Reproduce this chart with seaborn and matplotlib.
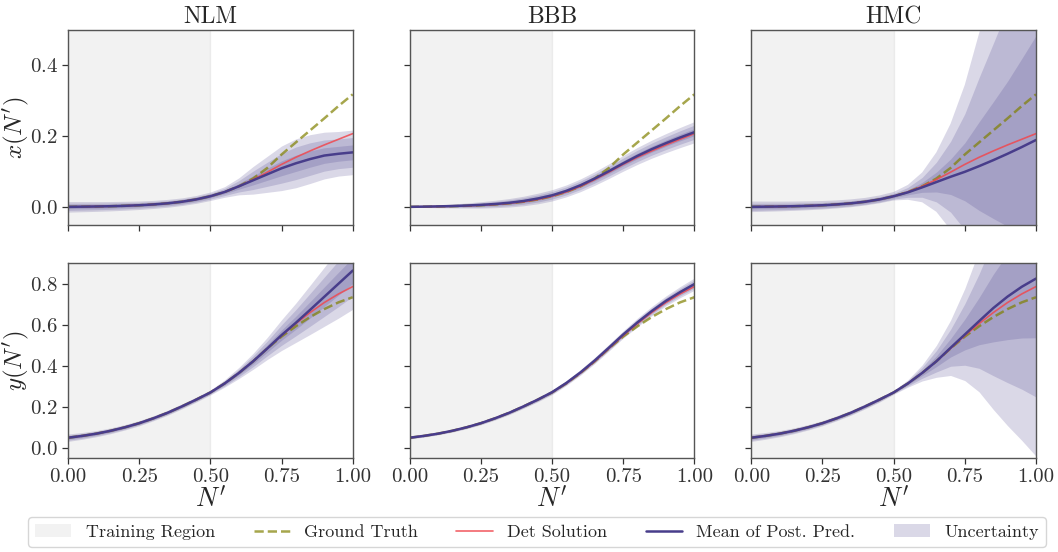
import numpy as np
import seaborn as sns
import matplotlib.pyplot as plt
from matplotlib.patches import Patch
from matplotlib.lines import Line2D

# grid of N' values the curves were read at
n_prime = [0.00, 0.05, 0.10, 0.15, 0.20, 0.25, 0.30, 0.35, 0.40, 0.45, 0.50,
           0.55, 0.60, 0.65, 0.70, 0.75, 0.80, 0.85, 0.90, 0.95, 1.00]

methods = ['NLM', 'BBB', 'HMC']

# ground truth and deterministic solution
gt_x = [0.000, 0.0005, 0.001, 0.0018, 0.003, 0.0045, 0.0068, 0.010, 0.0145, 0.021, 0.030,
        0.042, 0.058, 0.080, 0.110, 0.148, 0.182, 0.216, 0.250, 0.285, 0.318]
det_x = [0.000, 0.0005, 0.001, 0.0018, 0.003, 0.0045, 0.0068, 0.010, 0.0145, 0.021, 0.030,
         0.042, 0.058, 0.077, 0.098, 0.120, 0.140, 0.158, 0.175, 0.191, 0.207]
gt_y = [0.049, 0.058, 0.069, 0.083, 0.100, 0.120, 0.144, 0.171, 0.202, 0.235, 0.270,
        0.314, 0.365, 0.422, 0.485, 0.543, 0.593, 0.638, 0.677, 0.710, 0.735]
det_y = [0.049, 0.058, 0.069, 0.083, 0.100, 0.120, 0.144, 0.171, 0.202, 0.235, 0.270,
         0.314, 0.365, 0.422, 0.485, 0.548, 0.606, 0.660, 0.709, 0.751, 0.787]

# posterior predictive means and std devs
nlm_mean_x = [0.000, 0.0005, 0.001, 0.0018, 0.003, 0.0045, 0.0068, 0.010, 0.0145, 0.021, 0.030,
              0.042, 0.058, 0.075, 0.092, 0.109, 0.123, 0.135, 0.145, 0.150, 0.154]
nlm_sd_x = [0.005, 0.0048, 0.0046, 0.0044, 0.0042, 0.004, 0.0038, 0.0037, 0.0036, 0.0037, 0.004,
            0.005, 0.008, 0.013, 0.017, 0.021, 0.023, 0.023, 0.022, 0.021, 0.021]
bbb_mean_x = [0.000, 0.0006, 0.0013, 0.0023, 0.0037, 0.0055, 0.008, 0.0115, 0.0165, 0.0235, 0.0325,
              0.045, 0.061, 0.080, 0.101, 0.123, 0.144, 0.163, 0.180, 0.196, 0.211]
bbb_sd_x = [0.0003, 0.0008, 0.0013, 0.0018, 0.0024, 0.003, 0.0035, 0.004, 0.0045, 0.005, 0.0053,
            0.0056, 0.006, 0.0064, 0.0069, 0.0074, 0.008, 0.0085, 0.009, 0.0095, 0.010]
hmc_mean_x = [0.000, 0.0005, 0.001, 0.0018, 0.003, 0.0045, 0.0068, 0.010, 0.0145, 0.021, 0.030,
              0.041, 0.055, 0.070, 0.085, 0.099, 0.115, 0.132, 0.150, 0.169, 0.189]
hmc_sd_x = [0.005, 0.0048, 0.0046, 0.0044, 0.0042, 0.004, 0.0038, 0.0037, 0.0036, 0.0037, 0.004,
            0.007, 0.014, 0.028, 0.050, 0.082, 0.125, 0.165, 0.205, 0.250, 0.295]

nlm_mean_y = [0.049, 0.058, 0.069, 0.083, 0.100, 0.120, 0.144, 0.171, 0.202, 0.235, 0.270,
              0.314, 0.365, 0.422, 0.485, 0.550, 0.610, 0.673, 0.737, 0.801, 0.865]
nlm_sd_y = [0.006, 0.0055, 0.005, 0.0047, 0.0044, 0.0042, 0.004, 0.004, 0.004, 0.004, 0.004,
            0.006, 0.009, 0.013, 0.018, 0.025, 0.032, 0.040, 0.048, 0.056, 0.063]
bbb_mean_y = [0.049, 0.058, 0.069, 0.083, 0.100, 0.120, 0.144, 0.171, 0.202, 0.235, 0.271,
              0.316, 0.368, 0.426, 0.489, 0.553, 0.612, 0.667, 0.717, 0.760, 0.799]
bbb_sd_y = [0.002, 0.002, 0.002, 0.0022, 0.0024, 0.0026, 0.0028, 0.003, 0.0032, 0.0035, 0.0038,
            0.004, 0.0045, 0.005, 0.0055, 0.006, 0.007, 0.0075, 0.008, 0.009, 0.010]
hmc_mean_y = [0.049, 0.058, 0.069, 0.083, 0.100, 0.120, 0.144, 0.171, 0.202, 0.235, 0.270,
              0.314, 0.365, 0.422, 0.488, 0.553, 0.618, 0.682, 0.738, 0.786, 0.826]
hmc_sd_y = [0.006, 0.0055, 0.005, 0.0047, 0.0044, 0.0042, 0.004, 0.004, 0.004, 0.004, 0.003,
            0.006, 0.013, 0.026, 0.045, 0.075, 0.115, 0.165, 0.210, 0.250, 0.289]

truth = {'x': (gt_x, det_x), 'y': (gt_y, det_y)}
post = {
    'x': {'NLM': (nlm_mean_x, nlm_sd_x), 'BBB': (bbb_mean_x, bbb_sd_x), 'HMC': (hmc_mean_x, hmc_sd_x)},
    'y': {'NLM': (nlm_mean_y, nlm_sd_y), 'BBB': (bbb_mean_y, bbb_sd_y), 'HMC': (hmc_mean_y, hmc_sd_y)},
}

gt_color = 'olive'
det_color = '#f0484f'
mean_color = 'darkslateblue'

sns.set_theme(style="ticks")
plt.rcParams.update({
    'font.family': 'serif',
    'font.serif': ['cmr10'],
    'mathtext.fontset': 'cm',
    'axes.formatter.use_mathtext': True,
    'axes.unicode_minus': False,
    'axes.edgecolor': '#555555',
    'xtick.color': '#333333',
    'ytick.color': '#333333',
})

fig, axes = plt.subplots(2, 3, figsize=(10.58, 5.52), dpi=100, sharex=True, sharey='row')
fig.subplots_adjust(left=0.0643, right=0.9792, top=0.9457, bottom=0.1703, wspace=0.2, hspace=0.2)

x = np.array(n_prime)
for row, var in enumerate(['x', 'y']):
    gt, det = truth[var]
    for col, m in enumerate(methods):
        ax = axes[row, col]
        ax.axvspan(0, 0.5, color='gray', alpha=0.1)
        mu = np.array(post[var][m][0])
        sd = np.array(post[var][m][1])
        for k in (3, 2, 1):
            ax.fill_between(x, mu - k * sd, mu + k * sd, color=mean_color, alpha=0.2, lw=0)
        sns.lineplot(x=x, y=gt, ax=ax, color=gt_color, alpha=0.7, linestyle='--', lw=1.8)
        sns.lineplot(x=x, y=det, ax=ax, color=det_color, alpha=0.85, lw=1.2)
        sns.lineplot(x=x, y=mu, ax=ax, color=mean_color, lw=1.8)
        ax.set_xlim(0, 1)
        ax.set_xticks([0, 0.25, 0.5, 0.75, 1.0])
        ax.set_xticklabels(['0.00', '0.25', '0.50', '0.75', '1.00'])
        ax.tick_params(labelsize=15, length=4, width=0.9)
        for s in ax.spines.values():
            s.set_linewidth(1.0)
        if row == 0:
            ax.set_title(m, fontsize=17, pad=5)
            ax.set_ylim(-0.05, 0.5)
            ax.set_yticks([0.0, 0.2, 0.4])
        else:
            ax.set_ylim(-0.05, 0.9)
            ax.set_yticks([0.0, 0.2, 0.4, 0.6, 0.8])
            ax.set_xlabel(r"$N^\prime$", fontsize=19, labelpad=0)
        if col == 0:
            ax.set_ylabel(r"$%s(N^\prime)$" % var, fontsize=18)
            ax.yaxis.set_label_coords(-0.13, 0.5)

handles = [
    Patch(facecolor='gray', alpha=0.1, edgecolor='none'),
    Line2D([], [], color=gt_color, alpha=0.7, linestyle='--', lw=1.8),
    Line2D([], [], color=det_color, alpha=0.85, lw=1.2),
    Line2D([], [], color=mean_color, lw=1.8),
    Patch(facecolor=mean_color, alpha=0.2, edgecolor='none'),
]
labels = ['Training Region', 'Ground Truth', 'Det Solution', 'Mean of Post. Pred.', 'Uncertainty']
fig.legend(handles, labels, loc='upper left', ncol=5, mode='expand', fontsize=13,
           bbox_to_anchor=(28 / 1058, 0, 1018 / 1058, 1 - 517 / 552), borderaxespad=0,
           frameon=True, fancybox=True)

fig.savefig('out.png', dpi=100)
